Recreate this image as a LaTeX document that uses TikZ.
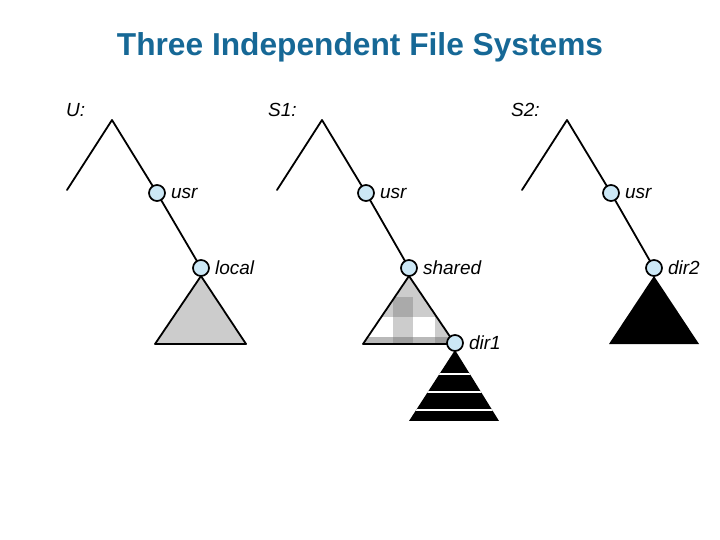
\documentclass[tikz,border=0pt]{standalone}
\usepackage{fontspec}
\setmainfont{Liberation Sans}
\usetikzlibrary{positioning}
\definecolor{titleblue}{RGB}{22,104,150}
\definecolor{dirblue}{RGB}{204,232,246}

\begin{document}
\begin{tikzpicture}[x=1pt,y=-1pt,
    dirnode/.style={circle,draw=black,fill=dirblue,line width=1.7pt,minimum size=16pt,inner sep=0pt},
    dirlabel/.style={font=\fontsize{19}{22}\selectfont\itshape,inner sep=0pt},
    branch/.style={line width=1.8pt,line join=round,line cap=round},
    subtree/.style={line width=1.8pt,line join=round}]
    \useasboundingbox (0,0) rectangle (720,540);
    % Title
    \node[font=\fontsize{31.7}{38}\selectfont\bfseries,text=titleblue,anchor=base] (title) at (360,56) {Three Independent File Systems};
    % Subtrees
    \filldraw[subtree,fill=gray!40] (201,276) -- (155,344) -- (246,344) -- cycle;
    \begin{scope}
        \clip (409,276) -- (363,344) -- (455,344) -- cycle;
        \fill[gray!40] (355,270) rectangle (460,344);
        \fill[gray!67] (393,297) rectangle (413,317);
        \fill[white] (355,317) rectangle (393,337);
        \fill[white] (413,317) rectangle (435,337);
        \fill[gray!55] (355,337) rectangle (460,344);
        \fill[gray!75] (393,337) rectangle (413,344);
        \fill[gray!75] (435,337) rectangle (460,344);
    \end{scope}
    \draw[subtree] (409,276) -- (363,344) -- (455,344) -- cycle;
    \begin{scope}
        \clip (455,350) -- (409,421) -- (499,421) -- cycle;
        \fill[black] (400,345) rectangle (510,421);
        \draw[white,line width=2.6pt] (400,374) -- (510,374);
        \draw[white,line width=2.6pt] (400,392) -- (510,392);
        \draw[white,line width=2.6pt] (400,410) -- (510,410);
    \end{scope}
    \fill[black] (654,276) -- (609,344) -- (699,344) -- cycle;
    % Roots
    \coordinate (rootU) at (112,120);
    \coordinate (leafU) at (67,190);
    \coordinate (rootA) at (322,120);
    \coordinate (leafA) at (277,190);
    \coordinate (rootB) at (567,120);
    \coordinate (leafB) at (522,190);
    \node[dirlabel,anchor=base west] (nameU) at (66,117) {U:};
    \node[dirlabel,anchor=base west] (nameA) at (268,117) {S1:};
    \node[dirlabel,anchor=base west] (nameB) at (511,117) {S2:};
    % Directories
    \node[dirnode] (usrU) at (157,193) {};
    \node[dirnode] (localU) at (201,268) {};
    \node[dirnode] (usrA) at (366,193) {};
    \node[dirnode] (sharedA) at (409,268) {};
    \node[dirnode] (dirOne) at (455,343) {};
    \node[dirnode] (usrB) at (611,193) {};
    \node[dirnode] (dirTwo) at (654,268) {};
    \node[dirlabel,right=5pt of usrU] {usr};
    \node[dirlabel,right=5pt of localU] {local};
    \node[dirlabel,right=5pt of usrA] {usr};
    \node[dirlabel,right=5pt of sharedA] {shared};
    \node[dirlabel,right=5pt of dirOne] {dir1};
    \node[dirlabel,right=5pt of usrB] {usr};
    \node[dirlabel,right=5pt of dirTwo] {dir2};
    % Branches
    \draw[branch] (leafU) -- (rootU) -- (usrU);
    \draw[branch] (usrU) -- (localU);
    \draw[branch] (leafA) -- (rootA) -- (usrA);
    \draw[branch] (usrA) -- (sharedA);
    \draw[branch] (leafB) -- (rootB) -- (usrB);
    \draw[branch] (usrB) -- (dirTwo);
\end{tikzpicture}
\end{document}
